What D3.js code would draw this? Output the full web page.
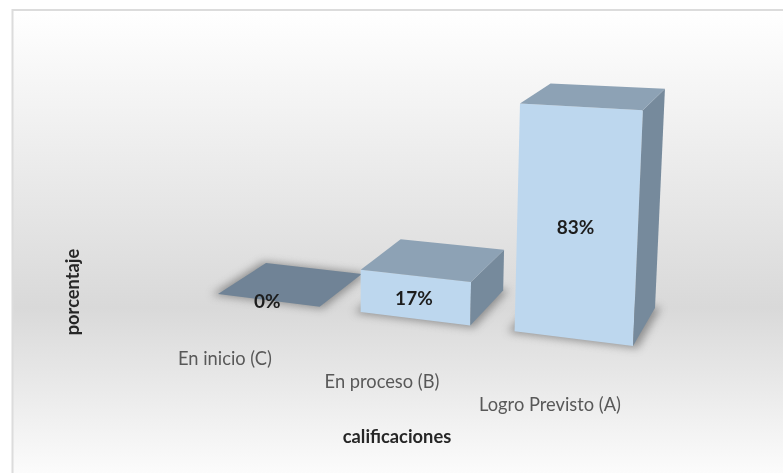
<!DOCTYPE html>
<html>
<head>
<meta charset="utf-8">
<script src="https://cdnjs.cloudflare.com/ajax/libs/d3/7.8.5/d3.min.js"></script>
<style>
  html, body { margin: 0; padding: 0; background: #fff; }
  text { font-family: Lato, "Noto Sans", sans-serif; }
</style>
</head>
<body>
<div id="chart"></div>
<script>
const categories = ["En inicio (C)", "En proceso (B)", "Logro Previsto (A)"];
const values = [0, 17, 83];
const valueLabels = ["0%", "17%", "83%"];
const xTitle = "calificaciones";
const yTitle = "porcentaje";

const width = 783, height = 473;
const svg = d3.select("#chart").append("svg")
  .attr("width", width).attr("height", height).style("display", "block");

const defs = svg.append("defs");
const grad = defs.append("linearGradient").attr("id", "bg")
  .attr("x1", 0).attr("y1", 0).attr("x2", 0).attr("y2", 1);
grad.append("stop").attr("offset", "0%").attr("stop-color", "#ffffff");
grad.append("stop").attr("offset", "62%").attr("stop-color", "#d9d9d9");
grad.append("stop").attr("offset", "100%").attr("stop-color", "#ffffff");
defs.append("filter").attr("id", "soft")
  .append("feGaussianBlur").attr("stdDeviation", 0.6);
defs.append("filter").attr("id", "shadow")
  .attr("x", "-20%").attr("y", "-20%").attr("width", "140%").attr("height", "140%")
  .append("feGaussianBlur").attr("stdDeviation", 4);

const root = svg.append("g").attr("filter", "url(#soft)");
root.append("rect")
  .attr("x", 12.5).attr("y", 10).attr("width", 790).attr("height", 480)
  .attr("fill", "url(#bg)").attr("stroke", "#dcdcdc").attr("stroke-width", 2);

// floor of the 3d plot: unit square to the four corners seen in the picture
function floorMap(q) {
  const [[x0, y0], [x1, y1], [x2, y2], [x3, y3]] = q;
  const dx1 = x1 - x2, dx2 = x3 - x2, sx = x0 - x1 + x2 - x3;
  const dy1 = y1 - y2, dy2 = y3 - y2, sy = y0 - y1 + y2 - y3;
  const den = dx1 * dy2 - dx2 * dy1;
  const g = (sx * dy2 - dx2 * sy) / den, h = (dx1 * sy - sx * dy1) / den;
  return (u, v) => {
    const w = g * u + h * v + 1;
    return [
      ((x1 - x0 + g * x1) * u + (x3 - x0 + h * x3) * v + x0) / w,
      ((y1 - y0 + g * y1) * u + (y3 - y0 + h * y3) * v + y0) / w
    ];
  };
}
const floor = floorMap([[218, 294], [633, 346], [655, 308], [266, 263]]);

const x = d3.scaleBand().domain(categories).range([0, 1]).paddingInner(0.28);
// tops come closer to the camera, so the value scale bends a little
const y = d3.scaleLinear().domain([0, 83]).range([0, 83]);
const rise = w => 2.666 * y(w) / (1 - 0.00074 * y(w));

function project(u, v, w) {
  const [gx, gy] = floor(u, v);
  const h = rise(w) * (1 - 0.07 * v) * (1 + 0.13 * (u - 1));
  return [gx + h * (gx - 360) / 6500, gy - h];
}

const poly = pts => "M" + pts.map(p => p.join(",")).join("L") + "Z";

const bars = root.selectAll("g.bar")
  .data(categories.map((c, i) => ({ c, value: values[i], label: valueLabels[i] })))
  .enter().append("g").attr("class", "bar");

bars.each(function (d) {
  const g = d3.select(this);
  const u0 = x(d.c), u1 = u0 + x.bandwidth(), w = d.value;
  const e = 0.012;
  g.append("path")
    .attr("d", poly([project(u0 - e, -0.04, 0), project(u1 + e, -0.04, 0), project(u1 + e, 1.03, 0), project(u0 - e, 1.03, 0)]))
    .attr("fill", "#6e6e6e").attr("opacity", 0.7).attr("filter", "url(#shadow)");
  if (w > 0) {
    g.append("path")
      .attr("d", poly([project(u0, 0, 0), project(u1, 0, 0), project(u1, 0, w), project(u0, 0, w)]))
      .attr("fill", "#bdd7ee");
    g.append("path")
      .attr("d", poly([project(u1, 0, 0), project(u1, 1, 0), project(u1, 1, w), project(u1, 0, w)]))
      .attr("fill", "#768a9c");
  }
  g.append("path")
    .attr("d", poly([project(u0, 0, w), project(u1, 0, w), project(u1, 1, w), project(u0, 1, w)]))
    .attr("fill", w > 0 ? "#8da2b5" : "#6f8396");
});

// value labels on the middle of the front face
bars.append("text")
  .attr("transform", d => {
    const p = project(x(d.c) + x.bandwidth() / 2, 0, d.value / 2);
    return "translate(" + (p[0] - 1) + "," + (p[1] + 1) + ")";
  })
  .attr("text-anchor", "middle").attr("dy", "0.35em")
  .attr("font-size", 19).attr("font-weight", 700).attr("fill", "#1f1f1f")
  .text(d => d.label);

// category labels step down to the right under the bars
const labelX = d3.scaleOrdinal(categories, [225, 382, 550]);
const labelY = d3.scaleOrdinal(categories, [359, 382, 405]);
bars.append("text")
  .attr("x", d => labelX(d.c)).attr("y", d => labelY(d.c))
  .attr("text-anchor", "middle").attr("dy", "0.35em")
  .attr("font-size", 18.3).attr("fill", "#595959")
  .text(d => d.c);

root.append("text")
  .attr("x", 397).attr("y", 437).attr("dy", "0.35em").attr("text-anchor", "middle")
  .attr("font-size", 18.3).attr("font-weight", 700).attr("fill", "#262626")
  .text(xTitle);
root.append("text")
  .attr("transform", "translate(73,292) rotate(-90)").attr("dy", "0.35em").attr("text-anchor", "middle")
  .attr("font-size", 18.3).attr("font-weight", 700).attr("fill", "#262626")
  .text(yTitle);
</script>
</body>
</html>
